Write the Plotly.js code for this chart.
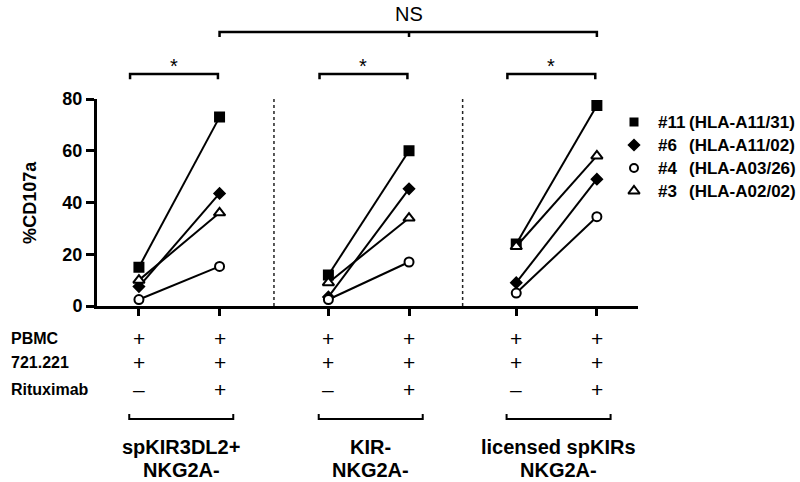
<!DOCTYPE html>
<html>
<head>
<meta charset="utf-8">
<script src="https://cdn.plot.ly/plotly-3.0.1.min.js"></script>
<style>
  html, body { margin: 0; padding: 0; background: #fff; }
  #chart { width: 800px; height: 482px; }
</style>
</head>
<body>
<div id="chart"></div>
<script>
// cell populations (one pair of conditions each)
var groupLine1 = ['spKIR3DL2+', 'KIR-', 'licensed spKIRs'];
var groupLine2 = ['NKG2A-', 'NKG2A-', 'NKG2A-'];

// donors
var donorIds = ['#11', '#6', '#4', '#3'];
var donorHla = ['(HLA-A11/31)', '(HLA-A11/02)', '(HLA-A03/26)', '(HLA-A02/02)'];

// %CD107a without rituximab, per group
var d11Minus = [15, 12, 24];
var d6Minus = [7.5, 3.5, 9];
var d4Minus = [2.5, 2.5, 5];
var d3Minus = [10, 9, 23];
// %CD107a with rituximab, per group
var d11Plus = [73, 60, 77.5];
var d6Plus = [43.5, 45.3, 49];
var d4Plus = [15.3, 17, 34.5];
var d3Plus = [36, 34, 58];

// condition table under the axis
var rowLabels = ['PBMC', '721.221', 'Rituximab'];
var pbmcSigns = ['+', '+', '+', '+', '+', '+'];
var cellSigns = ['+', '+', '+', '+', '+', '+'];
var rituxSigns = ['\u2013', '+', '\u2013', '+', '\u2013', '+'];

// x position of each condition column on the axis
var xPos = [0, 1, 2.35, 3.35, 4.68, 5.68];

var font = 'Liberation Sans, Arial, sans-serif';
var minusVals = [d11Minus, d6Minus, d4Minus, d3Minus];
var plusVals = [d11Plus, d6Plus, d4Plus, d3Plus];
var symbols = ['square', 'diamond', 'circle', 'triangle-up'];
var fills = ['black', 'black', 'white', 'white'];
var sizes = [9, 8, 9, 10];

var data = [];
for (var d = 0; d < donorIds.length; d++) {
    var xs = [], ys = [];
    for (var g = 0; g < groupLine1.length; g++) {
        xs.push(xPos[2 * g], xPos[2 * g + 1], null);
        ys.push(minusVals[d][g], plusVals[d][g], null);
    }
    data.push({
        x: xs, y: ys, type: 'scatter', mode: 'lines+markers',
        showlegend: false, cliponaxis: false, connectgaps: false,
        line: {color: 'black', width: 2},
        marker: {symbol: symbols[d], size: sizes[d], color: fills[d], line: {color: 'black', width: 2}}
    });
}

// legend drawn by hand: pixel positions -> paper coords (plot area 97..638 x 99..306)
function px2paperX(px) { return (px - 97) / 541; }
function px2paperY(py) { return (306 - py) / 207; }
var legX = 634, legTextX = 656, legHlaX = 687, legY0 = 122, legStep = 23;
var legYs = donorIds.map(function (_, i) { return legY0 + i * legStep; });
data.push({
    x: donorIds.map(function () { return legX; }), y: legYs,
    xaxis: 'x2', yaxis: 'y2', type: 'scatter', mode: 'markers',
    showlegend: false, cliponaxis: false, hoverinfo: 'skip',
    marker: {symbol: symbols, size: [7, 8, 8, 10], color: fills, opacity: 1, line: {color: 'black', width: 2}}
});

var shapes = [];
var annotations = [];

for (var d = 0; d < donorIds.length; d++) {
    annotations.push({xref: 'paper', yref: 'paper', x: px2paperX(legTextX), y: px2paperY(legYs[d]), xanchor: 'left', yanchor: 'middle',
        text: donorIds[d], showarrow: false, font: {family: font, size: 17, weight: 'bold', color: 'black'}});
    annotations.push({xref: 'paper', yref: 'paper', x: px2paperX(legHlaX), y: px2paperY(legYs[d]), xanchor: 'left', yanchor: 'middle',
        text: donorHla[d], showarrow: false, font: {family: font, size: 17, weight: 'bold', color: 'black'}});
}

// dotted separators between groups
for (var g = 0; g < groupLine1.length - 1; g++) {
    var xm = (xPos[2 * g + 1] + xPos[2 * g + 2]) / 2;
    shapes.push({type: 'line', xref: 'x', yref: 'y', x0: xm, x1: xm, y0: 0, y1: 80,
        line: {color: '#222', width: 1.5, dash: 'dot'}});
}

// significance brackets
var starY = 1.121, nsY = 1.324, drop = 0.025;
for (var g = 0; g < groupLine1.length; g++) {
    var a = xPos[2 * g] - 0.11, b = xPos[2 * g + 1] - 0.02;
    shapes.push({type: 'path', xref: 'x', yref: 'paper',
        path: 'M' + a + ',' + (starY - drop) + 'L' + a + ',' + starY + 'L' + b + ',' + starY + 'L' + b + ',' + (starY - drop),
        line: {color: 'black', width: 2.5}});
    annotations.push({xref: 'x', yref: 'paper', x: (a + b) / 2, y: 1.222, xanchor: 'center', yanchor: 'top',
        text: '*', showarrow: false, font: {family: font, size: 20, color: 'black'}});
}
var n0 = xPos[1], n1 = xPos[3], n2 = xPos[5];
shapes.push({type: 'path', xref: 'x', yref: 'paper',
    path: 'M' + n0 + ',' + (nsY - drop) + 'L' + n0 + ',' + nsY + 'L' + n2 + ',' + nsY + 'L' + n2 + ',' + (nsY - drop) +
          'M' + n1 + ',' + nsY + 'L' + n1 + ',' + (nsY - drop),
    line: {color: 'black', width: 2.5}});
annotations.push({xref: 'x', yref: 'paper', x: n1, y: 1.473, xanchor: 'center', yanchor: 'top',
    text: 'NS', showarrow: false, font: {family: font, size: 20, color: 'black'}});

// condition table
var rowY = [-0.155, -0.275, -0.401];
var rowSigns = [pbmcSigns, cellSigns, rituxSigns];
for (var r = 0; r < rowLabels.length; r++) {
    annotations.push({xref: 'paper', yref: 'paper', x: -0.162, y: rowY[r], xanchor: 'left', yanchor: 'middle',
        text: rowLabels[r], showarrow: false, font: {family: font, size: 16, weight: 'bold', color: 'black'}});
    for (var i = 0; i < xPos.length; i++) {
        annotations.push({xref: 'x', yref: 'paper', x: xPos[i], y: rowY[r], xanchor: 'center', yanchor: 'middle',
            text: rowSigns[r][i], showarrow: false, font: {family: font, size: 21, color: 'black'}});
    }
}

// group brackets and names
var brY = -0.546, brUp = 0.024;
for (var g = 0; g < groupLine1.length; g++) {
    var a = xPos[2 * g] - 0.12, b = xPos[2 * g + 1] + 0.17;
    shapes.push({type: 'path', xref: 'x', yref: 'paper',
        path: 'M' + a + ',' + (brY + brUp) + 'L' + a + ',' + brY + 'L' + b + ',' + brY + 'L' + b + ',' + (brY + brUp),
        line: {color: 'black', width: 2}});
    annotations.push({xref: 'x', yref: 'paper', x: (a + b) / 2, y: -0.681, xanchor: 'center', yanchor: 'middle',
        text: groupLine1[g], showarrow: false, font: {family: font, size: 20, weight: 'bold', color: 'black'}});
    annotations.push({xref: 'x', yref: 'paper', x: (a + b) / 2, y: -0.792, xanchor: 'center', yanchor: 'middle',
        text: groupLine2[g], showarrow: false, font: {family: font, size: 20, weight: 'bold', color: 'black'}});
}

// y axis title
annotations.push({xref: 'paper', yref: 'paper', x: -0.125, y: 0.5, xanchor: 'center', yanchor: 'middle', textangle: -90,
    text: '%CD107a', showarrow: false, font: {family: font, size: 18, weight: 'bold', color: 'black'}});

var layout = {
    width: 800, height: 482,
    margin: {l: 97, r: 162, t: 99, b: 176},
    paper_bgcolor: 'white', plot_bgcolor: 'white',
    font: {family: font, color: 'black'},
    showlegend: false,
    xaxis: {
        range: [-0.52, 6.19], showgrid: false, zeroline: false,
        showline: true, linewidth: 3, linecolor: 'black',
        ticks: 'outside', ticklen: 7, tickwidth: 3, tickcolor: 'black',
        tickvals: xPos, showticklabels: false
    },
    yaxis: {
        range: [0, 80], showgrid: false, zeroline: false,
        showline: true, linewidth: 3, linecolor: 'black',
        ticks: 'outside', ticklen: 8, tickwidth: 3, tickcolor: 'black',
        tickvals: [0, 20, 40, 60, 80],
        tickfont: {family: font, size: 18, weight: 'bold', color: 'black'}
    },
    xaxis2: {overlaying: 'x', anchor: 'y2', range: [97, 638], visible: false, fixedrange: true},
    yaxis2: {overlaying: 'y', anchor: 'x2', range: [306, 99], visible: false, fixedrange: true},
    shapes: shapes,
    annotations: annotations
};

Plotly.newPlot('chart', data, layout, {displayModeBar: false, staticPlot: true});
</script>
</body>
</html>
